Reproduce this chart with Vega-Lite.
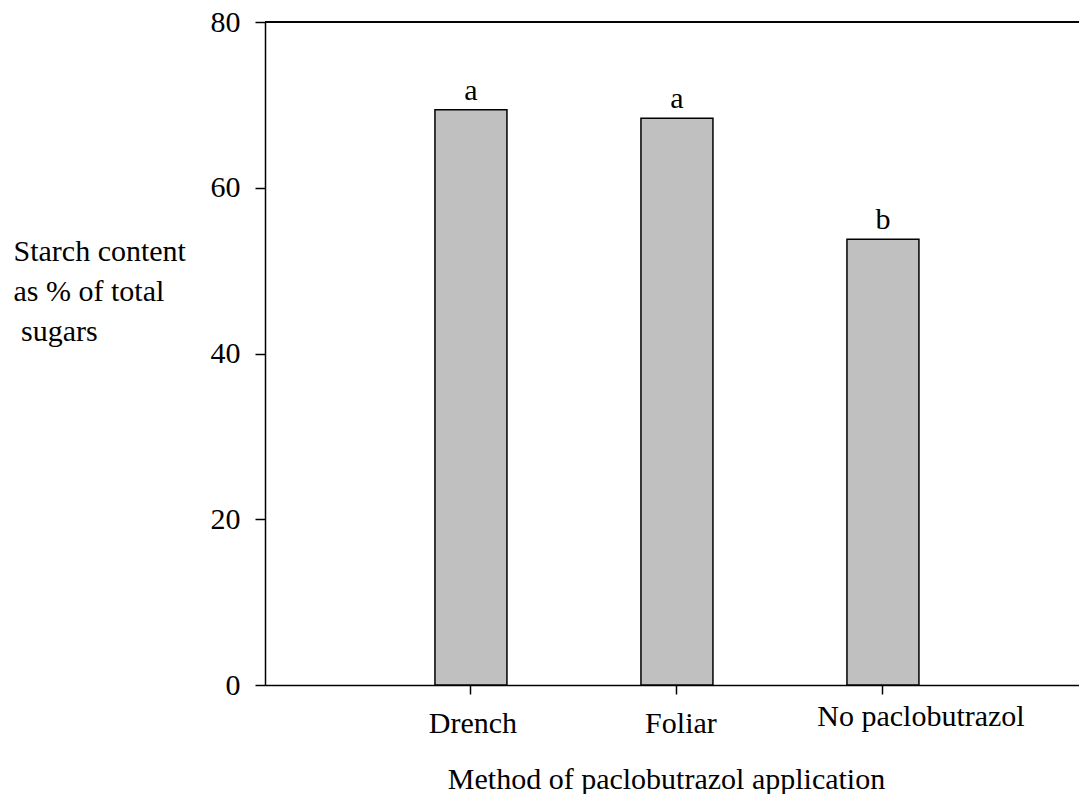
{
  "$schema": "https://vega.github.io/schema/vega-lite/v6.json",
  "width": 814,
  "height": 663,
  "autosize": {"type": "none"},
  "padding": {"left": 265, "top": 22, "right": 0, "bottom": 109},
  "background": "white",
  "config": {
    "view": {"stroke": null},
    "font": "Liberation Serif",
    "axis": {"grid": false, "domainColor": "black", "tickColor": "black", "labelColor": "black", "titleColor": "black", "labelFont": "Liberation Serif", "titleFont": "Liberation Serif", "titleFontWeight": "normal", "domainWidth": 1.5, "tickWidth": 1.5}
  },
  "data": {
    "values": [
      {"method": "Drench", "starch": 69.4, "group": "a"},
      {"method": "Foliar", "starch": 68.4, "group": "a"},
      {"method": "No paclobutrazol", "starch": 53.8, "group": "b"}
    ]
  },
  "layer": [
    {
      "mark": {"type": "bar", "fill": "#C0C0C0", "stroke": "black", "strokeWidth": 1.5},
      "encoding": {
        "x": {
          "field": "method",
          "type": "nominal",
          "sort": ["Drench", "Foliar", "No paclobutrazol"],
          "scale": {"domain": ["Drench", "Foliar", "No paclobutrazol"], "paddingInner": 0.6505, "paddingOuter": 0.801, "align": 0.515, "round": false},
          "axis": {
            "title": "Method of paclobutrazol application",
            "titleFontSize": 30,
            "titleBaseline": "alphabetic",
            "titleY": 103,
            "titleX": 401,
            "labelAngle": 0,
            "labelFontSize": 30,
            "labelLimit": 0,
            "labelBaseline": "alphabetic",
            "labelPadding": {"expr": "datum.value === 'No paclobutrazol' ? 31 : 38"},
            "labelOffset": {"expr": "datum.value === 'No paclobutrazol' ? 38 : (datum.value === 'Foliar' ? 4 : 2)"},
            "tickSize": 9
          }
        },
        "y": {
          "field": "starch",
          "type": "quantitative",
          "scale": {"domain": [0, 80], "nice": false, "zero": true},
          "axis": {
            "values": [0, 20, 40, 60, 80],
            "tickSize": 10,
            "labelFontSize": 30,
            "labelPadding": 15,
            "title": ["Starch content", "as % of total", "\u200b\u00a0sugars"],
            "titleFontSize": 30,
            "titleLimit": 0,
            "titleAngle": 0,
            "titleAlign": "left",
            "titleBaseline": "alphabetic",
            "titleX": -252,
            "titleY": 238,
            "titleLineHeight": 40
          }
        }
      }
    },
    {
      "mark": {"type": "text", "baseline": "alphabetic", "dy": -10, "fontSize": 30, "font": "Liberation Serif", "color": "black"},
      "encoding": {
        "x": {"field": "method", "type": "nominal", "sort": ["Drench", "Foliar", "No paclobutrazol"]},
        "y": {"field": "starch", "type": "quantitative"},
        "text": {"field": "group"}
      }
    },
    {
      "mark": {"type": "rule", "color": "black", "strokeWidth": 1.5},
      "encoding": {"y": {"datum": 80}}
    }
  ]
}
